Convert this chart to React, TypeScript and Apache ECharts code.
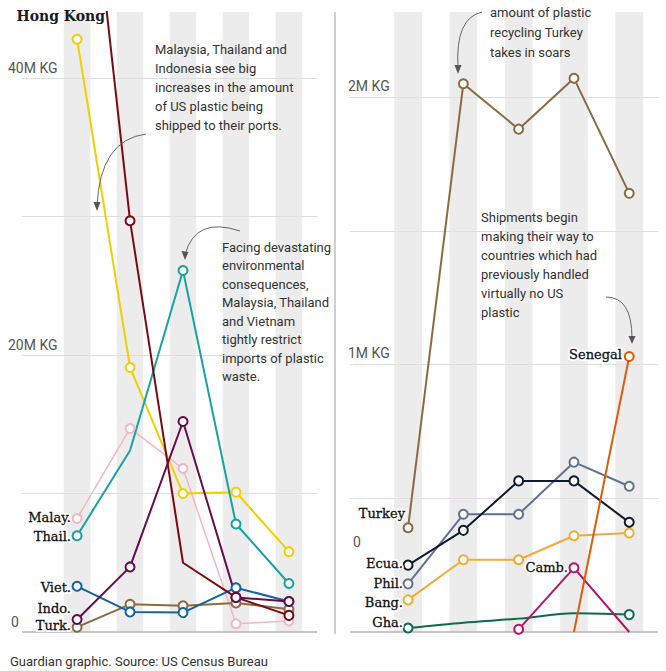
import React, { useEffect, useRef } from "react";
import * as echarts from "echarts";

// Left panel (million kg)
const leftYellow = [42.8, 19.1, 10.0, 10.1, 5.8];
const leftHongKong = [64, 29.7, 5.0, 2.5, 1.2];
const leftThailand = [6.95, 13.1, 26.1, 7.8, 3.5];
const leftMalaysia = [8.2, 14.7, 11.8, 0.6, 0.8];
const leftIndonesia = [0.9, 4.7, 15.2, 2.5, 2.2];
const leftVietnam = [3.3, 1.45, 1.4, 3.2, 2.2];
const leftTurkey = [0.35, 2.0, 1.9, 2.1, 1.65];

// Right panel (million kg)
const rightTurkey = [0.39, 2.05, 1.88, 2.07, 1.64];
const rightSenegal = [null, null, null, 0, 1.03];
const rightCambodia = [null, null, 0.01, 0.24, 0];
const rightGhana = [0.015, 0.035, 0.05, 0.07, 0.065];
const rightEcuador = [0.25, 0.38, 0.565, 0.565, 0.41];
const rightPhilippines = [0.18, 0.44, 0.44, 0.635, 0.545];
const rightBangladesh = [0.12, 0.27, 0.27, 0.36, 0.37];

const leftGridValues = [0, 10, 20, 30, 40];
const rightGridValues = [0, 0.5, 1, 1.5, 2];
const bandIndexes = [0, 1, 2, 3, 4];

const SANS = "Roboto, 'Noto Sans', sans-serif";
const SERIF = "'DejaVu Serif', 'Liberation Serif', serif";

function toData(vals: (number | null)[], hidden: number[] = []) {
  return vals.map((v, i) => {
    if (v === null) return [i, null];
    if (hidden.indexOf(i) >= 0) return { value: [i, v], symbol: "none" };
    return [i, v];
  });
}

function lineSeries(
  name: string,
  vals: (number | null)[],
  color: string,
  axisIndex: number,
  opts: any = {}
) {
  return {
    name,
    type: "line",
    xAxisIndex: axisIndex,
    yAxisIndex: axisIndex,
    data: toData(vals, opts.hidden || []),
    symbol: "circle",
    symbolSize: 9,
    showSymbol: true,
    clip: true,
    connectNulls: false,
    smooth: opts.smooth || false,
    lineStyle: { color, width: opts.width || 2 },
    itemStyle: { color: "#fff", borderColor: color, borderWidth: 2 },
    z: 5,
    silent: true,
  };
}

function bandSeries(axisIndex: number, gridVals: number[]) {
  return {
    type: "line",
    xAxisIndex: axisIndex,
    yAxisIndex: axisIndex,
    data: [],
    silent: true,
    markArea: {
      silent: true,
      itemStyle: { color: "#ececec" },
      data: bandIndexes.map((i) => [{ xAxis: i - 0.25 }, { xAxis: i + 0.25 }]),
    },
    markLine: {
      silent: true,
      symbol: "none",
      label: { show: false },
      data: gridVals.map((v) => ({
        yAxis: v,
        lineStyle: {
          color: v === 0 ? "#b5b5b5" : "#dedede",
          width: v === 0 ? 1.5 : 1,
          type: "solid",
        },
      })),
    },
    z: 1,
  };
}

function txt(x: number, y: number, text: string, opts: any = {}) {
  return {
    type: "text",
    x,
    y,
    z: 50,
    silent: true,
    style: {
      text,
      font: opts.font || `13px ${SANS}`,
      fill: opts.fill || "#333",
      textAlign: opts.align || "left",
      textVerticalAlign: opts.valign || "middle",
      lineHeight: opts.lineHeight || 19,
    },
  };
}

function serifLabel(x: number, y: number, text: string): any[] {
  const font = `13px ${SERIF}`;
  return [
    {
      type: "text",
      x,
      y,
      z: 60,
      silent: true,
      style: {
        text,
        font,
        fill: "#fff",
        stroke: "#fff",
        lineWidth: 4,
        textAlign: "right",
        textVerticalAlign: "middle",
      },
    },
    {
      type: "text",
      x,
      y,
      z: 61,
      silent: true,
      style: {
        text,
        font,
        fill: "#111",
        stroke: "#111",
        lineWidth: 0.3,
        textAlign: "right",
        textVerticalAlign: "middle",
      },
    },
  ];
}

function arrow(
  x1: number,
  y1: number,
  cx: number,
  cy: number,
  x2: number,
  y2: number,
  head: number[][]
): any[] {
  return [
    {
      type: "bezierCurve",
      z: 40,
      silent: true,
      shape: { x1, y1, x2, y2, cpx1: cx, cpy1: cy },
      style: { stroke: "#666", lineWidth: 1, fill: "none" },
    },
    {
      type: "polygon",
      z: 40,
      silent: true,
      shape: { points: head },
      style: { fill: "#555" },
    },
  ];
}

export default function App() {
  const ref = useRef<HTMLDivElement>(null);

  useEffect(() => {
    if (!ref.current) return;
    const chart = echarts.init(ref.current, undefined, { renderer: "svg" });

    const graphic: any[] = [
      // divider
      {
        type: "line",
        z: 30,
        silent: true,
        shape: { x1: 335, y1: 12, x2: 335, y2: 634 },
        style: { stroke: "#cfcfcf", lineWidth: 2 },
      },
      // axis labels left
      txt(8, 68, "40M KG", { font: `14px ${SANS}`, fill: "#555" }),
      txt(8, 345, "20M KG", { font: `14px ${SANS}`, fill: "#555" }),
      txt(11, 622, "0", { font: `14px ${SANS}`, fill: "#555" }),
      // axis labels right
      txt(348, 86, "2M KG", { font: `14px ${SANS}`, fill: "#555" }),
      txt(348, 353, "1M KG", { font: `14px ${SANS}`, fill: "#555" }),
      txt(353, 542, "0", { font: `14px ${SANS}`, fill: "#555" }),
      // annotations
      txt(
        155,
        40,
        "Malaysia, Thailand and\nIndonesia see big\nincreases in the amount\nof US plastic being\nshipped to their ports.",
        { valign: "top" }
      ),
      txt(
        222,
        238,
        "Facing devastating\nenvironmental\nconsequences,\nMalaysia, Thailand\nand Vietnam\ntightly restrict\nimports of plastic\nwaste.",
        { valign: "top", lineHeight: 18.5 }
      ),
      txt(490, 2, "amount of plastic\nrecycling Turkey\ntakes in soars", {
        valign: "top",
        lineHeight: 20,
      }),
      txt(
        481,
        208,
        "Shipments begin\nmaking their way to\ncountries which had\npreviously handled\nvirtually no US\nplastic",
        { valign: "top", lineHeight: 19 }
      ),
      // footer
      txt(10, 661, "Guardian graphic. Source: US Census Bureau", {
        fill: "#333",
      }),
      ...arrow(146, 134, 100, 140, 97, 206, [
        [93.5, 202],
        [100.5, 202],
        [97, 211],
      ]),
      ...arrow(240, 231, 195, 216, 185, 255, [
        [181.5, 251],
        [188.5, 252],
        [185, 260],
      ]),
      ...arrow(482, 12, 455, 18, 458, 68, [
        [454.5, 65],
        [461.5, 65],
        [458, 74],
      ]),
      ...arrow(606, 297, 632, 297, 632, 338, [
        [628.5, 336],
        [635.5, 336],
        [632, 344],
      ]),
      // series labels
      {
        type: "text",
        x: 105,
        y: 16,
        z: 61,
        silent: true,
        style: {
          text: "Hong Kong",
          font: `bold 14px ${SERIF}`,
          fill: "#1a1a1a",
          textAlign: "right",
          textVerticalAlign: "middle",
        },
      },
      ...serifLabel(71, 517, "Malay."),
      ...serifLabel(71, 536, "Thail."),
      ...serifLabel(71, 587, "Viet."),
      ...serifLabel(71, 608, "Indo."),
      ...serifLabel(71, 625, "Turk."),
      ...serifLabel(405, 513, "Turkey"),
      ...serifLabel(403, 563, "Ecua."),
      ...serifLabel(403, 583, "Phil."),
      ...serifLabel(403, 602, "Bang."),
      ...serifLabel(403, 622, "Gha."),
      ...serifLabel(568, 567, "Camb."),
      ...serifLabel(622, 354, "Senegal"),
    ];

    const option: any = {
      animation: false,
      backgroundColor: "#fff",
      grid: [
        { left: 22, top: 12, width: 295, height: 620 },
        { left: 350, top: 12, width: 308, height: 620 },
      ],
      xAxis: [0, 1].map((i) => ({
        type: "value",
        gridIndex: i,
        min: i === 0 ? -1.04 : -1.05,
        max: i === 0 ? 4.53 : 4.52,
        axisLine: { show: false },
        axisTick: { show: false },
        axisLabel: { show: false },
        splitLine: { show: false },
      })),
      yAxis: [0, 1].map((i) => ({
        type: "value",
        gridIndex: i,
        min: 0,
        max: i === 0 ? 44.77 : 2.318,
        axisLine: { show: false },
        axisTick: { show: false },
        axisLabel: { show: false },
        splitLine: { show: false },
      })),
      series: [
        bandSeries(0, leftGridValues),
        bandSeries(1, rightGridValues),
        lineSeries("Malaysia", leftMalaysia, "#f4b6c2", 0, { width: 1.5 }),
        lineSeries("Yellow", leftYellow, "#f0d000", 0),
        lineSeries("Thailand", leftThailand, "#17a2a3", 0, { hidden: [1] }),
        lineSeries("Turkey", leftTurkey, "#8c6a3f", 0),
        lineSeries("Vietnam", leftVietnam, "#14629f", 0),
        lineSeries("Hong Kong", leftHongKong, "#7a0a12", 0, { hidden: [2] }),
        lineSeries("Indonesia", leftIndonesia, "#650b4e", 0),
        lineSeries("Turkey R", rightTurkey, "#8c6a3f", 1),
        lineSeries("Ghana", rightGhana, "#0b6a4f", 1, {
          hidden: [1, 2, 3],
          smooth: 0.3,
        }),
        lineSeries("Cambodia", rightCambodia, "#b3176b", 1, { hidden: [4] }),
        lineSeries("Bangladesh", rightBangladesh, "#eeac3a", 1),
        lineSeries("Philippines", rightPhilippines, "#5e7394", 1),
        lineSeries("Ecuador", rightEcuador, "#0f1b31", 1),
        lineSeries("Senegal", rightSenegal, "#de5b07", 1, { hidden: [3] }),
      ],
      graphic,
    };

    chart.setOption(option);
    return () => chart.dispose();
  }, []);

  return (
    <div
      ref={ref}
      style={{ position: "fixed", left: 0, top: 0, width: 666, height: 671 }}
    />
  );
}
